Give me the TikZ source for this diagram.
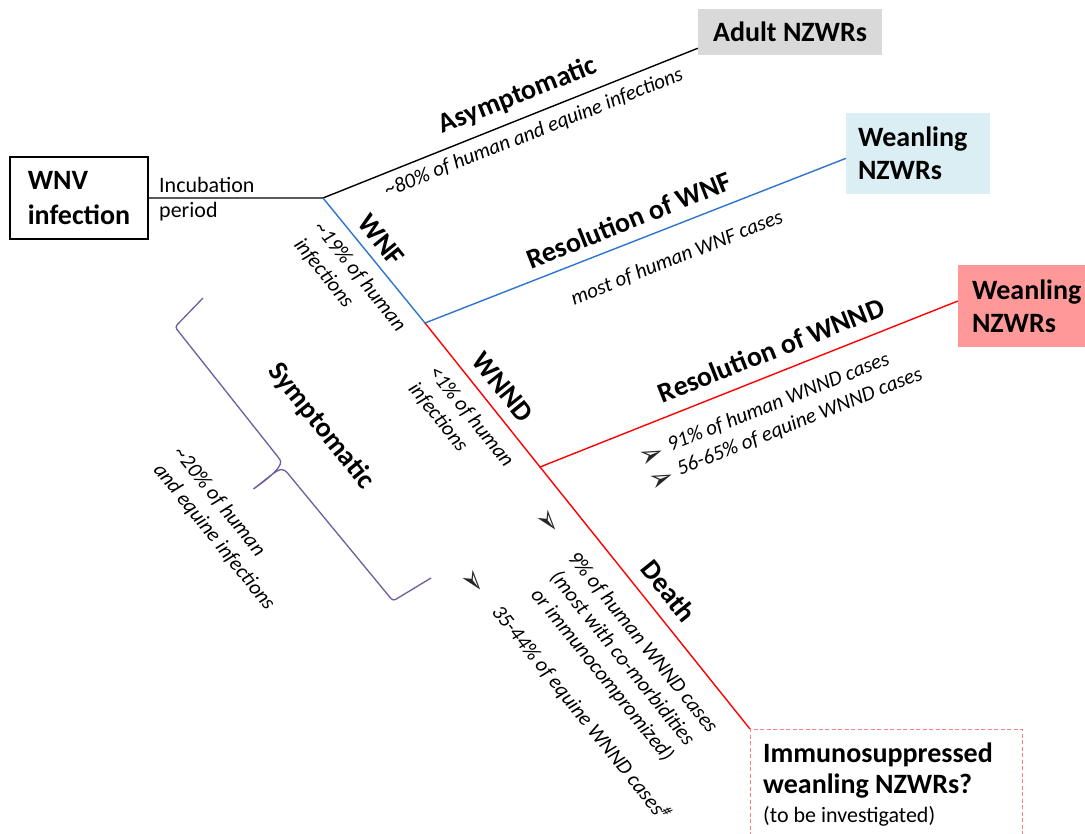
\documentclass[tikz,border=0pt]{standalone}
\usepackage{fontspec}
\setmainfont{Carlito}
\newfontfamily\dejavu{DejaVu Sans}
\usetikzlibrary{calc}
\definecolor{lnblue}{RGB}{46,117,206}
\definecolor{lnred}{RGB}{255,0,0}
\definecolor{adultfill}{RGB}{217,217,217}
\definecolor{wnffill}{RGB}{219,238,244}
\definecolor{wnndfill}{RGB}{255,153,153}
\definecolor{dashred}{RGB}{245,130,130}
\definecolor{bracepurple}{RGB}{112,92,160}
\begin{document}
\begin{tikzpicture}[x=1pt,y=-1pt,
  big/.style={font=\fontsize{28}{33}\selectfont\bfseries, inner sep=0pt},
  small/.style={font=\fontsize{21}{26}\selectfont\itshape, inner sep=0pt},
  plain/.style={font=\fontsize{22}{26}\selectfont, inner sep=0pt},
  bulletmark/.style={font=\fontsize{30}{30}\selectfont\dejavu, inner sep=0pt, text=black!85},
  link/.style={line width=1.4pt},
  endbox/.style={big, align=left}
]
\useasboundingbox (0,0) rectangle (1085,834);
\fill[white] (0,0) rectangle (1085,834);

% start box
\node[draw, line width=1.4pt, minimum width=138pt, minimum height=82pt, align=left,
      font=\fontsize{28}{35}\selectfont\bfseries] (wnv) at (79,198) {WNV\\infection};
\node[plain, anchor=base west] (incub) at (159,193) {Incubation};
\node[plain, anchor=base west] (period) at (159,218) {period};

% junctions
\coordinate (J1) at (323,198);
\coordinate (J2) at (425,323);
\coordinate (J3) at (540,467);

% outcome boxes
\node[fill=adultfill, minimum width=184pt, minimum height=46pt, big] (adult) at (790,32) {Adult NZWRs};
\node[endbox, fill=wnffill, minimum width=144pt, minimum height=81pt, text width=120pt, inner xsep=12pt] (wnfbox) at (918,153.5) {Weanling\\NZWRs};
\node[endbox, fill=wnndfill, minimum width=137pt, minimum height=82pt, text width=109pt, inner xsep=14pt] (wnndbox) at (1026.5,306) {Weanling\\NZWRs};
\node[draw=dashred, dash pattern=on 4pt off 2.5pt, line width=0.8pt, minimum width=272pt, minimum height=120pt, anchor=north west, inner sep=0pt] (imm) at (750,729) {};
\node[big, anchor=base west] (immA) at (763,762) {Immunosuppressed};
\node[big, anchor=base west] (immB) at (763,793) {weanling NZWRs?};
\node[plain, anchor=base west] (immC) at (763,822) {(to be investigated)};

% connectors
\draw[link] (wnv.east) -- (J1) -- ($(adult.south west)!0.15!(adult.north west)$);
\draw[link, lnblue] (J1) -- (J2) -- ($(wnfbox.south west)!0.44!(wnfbox.north west)$);
\draw[link, lnred] (J2) -- (J3) -- ($(wnndbox.south west)!0.56!(wnndbox.north west)$);
\draw[link, lnred] (J3) -- (imm.north west);

% branch labels
\node[big, rotate=21.6] (asym) at (518,96) {Asymptomatic};
\node[small, rotate=21.6] (asymp) at (534,133) {\textasciitilde80\% of human and equine infections};
\node[big, rotate=-51.2] (wnf) at (381,240) {WNF};
\node[small, rotate=-51.2, align=left] (wnfp) at (350,285) {\textasciitilde19\% of human\\infections};
\node[big, rotate=21.6] (reswnf) at (629,220) {Resolution of WNF};
\node[small, rotate=21.6] (reswnfp) at (677,258) {most of human WNF cases};
\node[big, rotate=-51.2] (wnnd) at (503,387) {WNND};
\node[small, rotate=-51.2, align=left] (wnndp) at (461,425) {<1\% of human\\infections};
\node[big, rotate=21.6] (reswnnd) at (771,350) {Resolution of WNND};
\node[small, rotate=21.6, align=left] (reswnndp) at (795,410) {91\% of human WNND cases\\56-65\% of equine WNND cases};
\node[bulletmark, rotate=21.6] (b1) at (652,456) {➢};
\node[bulletmark, rotate=21.6] (b2) at (662,480) {➢};
\node[big, rotate=-51.2] (death) at (669,591) {Death};
\node[small, rotate=-51.2, align=center] (deathp) at (622,659) {9\% of human WNND cases\\(most with co-morbidities\\or immunocompromized)};
\node[small, rotate=-51.2] (deathq) at (581,713) {35-44\% of equine WNND cases\textsuperscript{\#}};
\node[bulletmark, rotate=-51.2] (b3) at (548,522) {➢};
\node[bulletmark, rotate=-51.2] (b4) at (473,582) {➢};

% symptomatic brace
\draw[bracepurple, line width=1.3pt, rounded corners=3pt]
  (203,298) -- (175,327) -- (278,457)
  .. controls (284,465) and (272,476) .. (252,490)
  .. controls (268,478) and (277,469) .. (285,470)
  -- (393,601) -- (431,578);
\node[big, rotate=-51.2] (symp) at (321,426) {Symptomatic};
\node[small, rotate=-51.2, align=left] (sympp) at (224,529) {\textasciitilde20\% of human\\and equine infections};
\end{tikzpicture}
\end{document}
